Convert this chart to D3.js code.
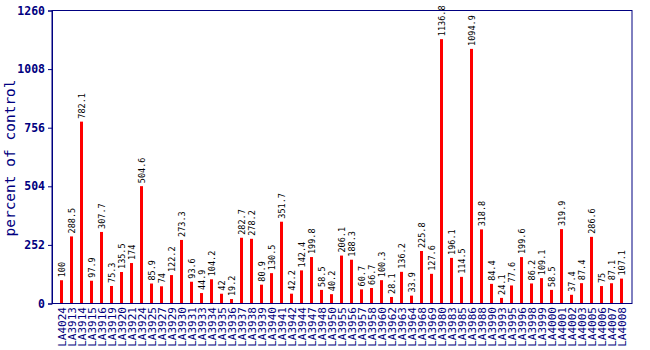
<!DOCTYPE html>
<html>
<head>
<meta charset="utf-8">
<script src="https://cdn.jsdelivr.net/npm/d3@7"></script>
<style>
  html, body { margin: 0; padding: 0; background: #fff; }
  svg { display: block; }
</style>
</head>
<body>
<svg id="chart" width="650" height="350"></svg>
<script>
// Lines and their expression levels, in percent of control
const categories = ["LA4024","LA3913","LA3914","LA3915","LA3916","LA3919","LA3920","LA3921","LA3924","LA3925","LA3927","LA3929","LA3930","LA3931","LA3933","LA3934","LA3935","LA3936","LA3937","LA3938","LA3939","LA3940","LA3941","LA3942","LA3944","LA3947","LA3948","LA3950","LA3955","LA3956","LA3957","LA3958","LA3960","LA3962","LA3963","LA3964","LA3968","LA3969","LA3980","LA3983","LA3985","LA3986","LA3988","LA3990","LA3993","LA3995","LA3996","LA3998","LA3999","LA4000","LA4001","LA4002","LA4003","LA4005","LA4006","LA4007","LA4008"];
const values = [100,288.5,782.1,97.9,307.7,75.3,135.5,174,504.6,85.9,74,122.2,273.3,93.6,44.9,104.2,42,19.2,282.7,278.2,80.9,130.5,351.7,42.2,142.4,199.8,58.5,40.2,206.1,188.3,60.7,66.7,100.3,28.1,136.2,33.9,225.8,127.6,1136.8,196.1,114.5,1094.9,318.8,84.4,24.1,77.6,199.6,86.2,109.1,58.5,319.9,37.4,87.4,286.6,75,87.1,107.1];
const yTicks = [0, 252, 504, 756, 1008, 1260];
const yTitle = "percent of control";

const navy = "#000080";
const plot = { left: 52, right: 632, top: 10.5, bottom: 303.5 };

const svg = d3.select("#chart");

// one slot per line, 10px apart
const x = d3.scaleBand()
  .domain(categories)
  .range([56.5, 626.5]);

const y = d3.scaleLinear()
  .domain([0, 1260])
  .range([plot.bottom, plot.top]);

const barW = 3;
const cx = d => x(d) + x.bandwidth() / 2;

// bars
svg.append("g").selectAll("rect")
  .data(values)
  .join("rect")
  .attr("x", (d, i) => Math.round(cx(categories[i]) - barW / 2))
  .attr("y", d => y(d))
  .attr("width", barW)
  .attr("height", d => plot.bottom - y(d))
  .attr("fill", "#ff0000");

// value labels above bars
svg.append("g").selectAll("text")
  .data(values)
  .join("text")
  .attr("transform", (d, i) => `translate(${cx(categories[i]) + 3},${y(d) - 3}) rotate(-90)`)
  .attr("font-family", "DejaVu Sans Mono, monospace")
  .attr("font-size", 8.5)
  .attr("fill", "#000")
  .text(d => d);

// plot frame
svg.append("rect")
  .attr("x", plot.left).attr("y", plot.top)
  .attr("width", plot.right - plot.left)
  .attr("height", plot.bottom - plot.top)
  .attr("fill", "none")
  .attr("stroke", navy)
  .attr("stroke-width", 1);

// y axis
const yAxis = d3.axisLeft(y)
  .tickValues(yTicks)
  .tickFormat(d3.format("d"))
  .tickSize(4)
  .tickPadding(3);
const gy = svg.append("g")
  .attr("transform", `translate(${plot.left},0)`)
  .call(yAxis);
gy.select(".domain").attr("stroke", navy);
gy.selectAll(".tick line").attr("stroke", navy);
gy.selectAll(".tick text")
  .attr("fill", navy)
  .attr("font-family", "DejaVu Sans Mono, monospace")
  .attr("font-weight", "bold")
  .attr("font-size", 11.5);

// x axis labels
svg.append("g").selectAll("text")
  .data(categories)
  .join("text")
  .attr("transform", d => `translate(${cx(d) + 4},307) rotate(-90)`)
  .attr("text-anchor", "end")
  .attr("font-family", "DejaVu Sans Mono, monospace")
  .attr("font-size", 11)
  .attr("fill", navy)
  .text(d => d);

// y title
svg.append("text")
  .attr("transform", `translate(15,158) rotate(-90)`)
  .attr("text-anchor", "middle")
  .attr("font-family", "DejaVu Sans Mono, monospace")
  .attr("font-size", 14.5)
  .attr("fill", navy)
  .text(yTitle);
</script>
</body>
</html>
